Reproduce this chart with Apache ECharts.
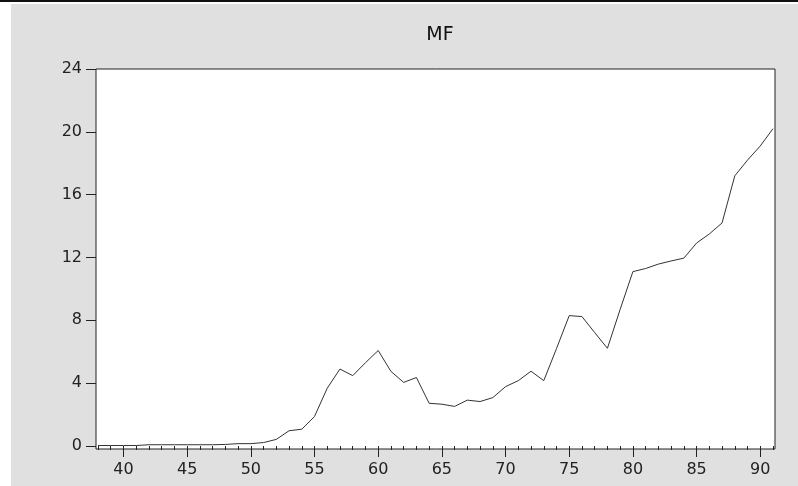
<!DOCTYPE html>
<html>
<head>
<meta charset="utf-8">
<script src="https://cdn.jsdelivr.net/npm/echarts@6/dist/echarts.min.js"></script>
<style>
  body { margin: 0; background: #fff; }
  #frame { position: relative; width: 798px; height: 486px; background: #fff; }
  #topline { position: absolute; left: 0; top: 0; width: 798px; height: 2px; background: #111; }
  #chart { position: absolute; left: 11px; top: 4px; width: 787px; height: 482px; }
</style>
</head>
<body>
<div id="frame">
  <div id="topline"></div>
  <div id="chart"></div>
</div>
<script>
const years = [
  '38', '39', '40', '41', '42', '43', '44', '45', '46', '47',
  '48', '49', '50', '51', '52', '53', '54', '55', '56', '57',
  '58', '59', '60', '61', '62', '63', '64', '65', '66', '67',
  '68', '69', '70', '71', '72', '73', '74', '75', '76', '77',
  '78', '79', '80', '81', '82', '83', '84', '85', '86', '87',
  '88', '89', '90', '91'
]

const mfValues = [
  0.03, 0.03, 0.03, 0.03, 0.08, 0.08, 0.08, 0.08, 0.08, 0.08,
  0.10, 0.15, 0.15, 0.22, 0.42, 0.97, 1.07, 1.88, 3.68, 4.90,
  4.48, 5.30, 6.08, 4.75, 4.05, 4.36, 2.72, 2.66, 2.52, 2.92,
  2.83, 3.08, 3.78, 4.16, 4.76, 4.16, 6.20, 8.30, 8.24, 7.22,
  6.22, 8.70, 11.10, 11.30, 11.58, 11.78, 11.96, 12.92, 13.50, 14.20,
  17.20, 18.20, 19.10, 20.20
]

const yMin = 0
const yMax = 24
const yStep = 4

const isMajor = (idx, val) => Number(val) % 5 === 0

const chart = echarts.init(document.getElementById('chart'))
chart.setOption({
  backgroundColor: '#e0e0e0',
  animation: false,
  title: {
    text: 'MF',
    left: 424,
    top: 17,
    textAlign: 'center',
    textStyle: {
      color: '#111',
      fontFamily: 'DejaVu Sans',
      fontWeight: 'normal',
      fontSize: 19
    }
  },
  grid: [
    // outer box (white plot area with black frame)
    {
      left: 85, top: 65, width: 679, height: 380,
      show: true,
      backgroundColor: '#fff',
      borderColor: '#222',
      borderWidth: 1
    },
    // data area, slightly inset like the original
    {
      left: 87, top: 65, width: 675, height: 377
    }
  ],
  xAxis: [
    {
      type: 'category',
      gridIndex: 1,
      data: years,
      boundaryGap: false,
      offset: 3,
      axisLine: { show: false },
      axisTick: { show: true, interval: 0, length: 4, lineStyle: { color: '#222' } },
      axisLabel: { show: false },
      splitLine: { show: false }
    },
    {
      type: 'category',
      gridIndex: 1,
      position: 'bottom',
      data: years,
      boundaryGap: false,
      offset: 3,
      axisLine: { show: false },
      axisTick: { show: true, interval: isMajor, length: 8, lineStyle: { color: '#222' } },
      axisLabel: {
        interval: isMajor,
        margin: 13,
        color: '#222',
        fontFamily: 'DejaVu Sans',
        fontSize: 16
      },
      splitLine: { show: false }
    }
  ],
  yAxis: [
    {
      type: 'value',
      gridIndex: 1,
      min: yMin,
      max: yMax,
      interval: yStep,
      offset: 2,
      axisLine: { show: false },
      axisTick: { show: true, length: 10, lineStyle: { color: '#222' } },
      axisLabel: {
        margin: 14,
        color: '#222',
        fontFamily: 'DejaVu Sans',
        fontSize: 16
      },
      splitLine: { show: false }
    }
  ],
  series: [
    {
      name: 'MF',
      type: 'line',
      xAxisIndex: 0,
      yAxisIndex: 0,
      data: mfValues,
      symbol: 'none',
      lineStyle: { color: '#333', width: 1 }
    }
  ]
})
</script>
</body>
</html>
